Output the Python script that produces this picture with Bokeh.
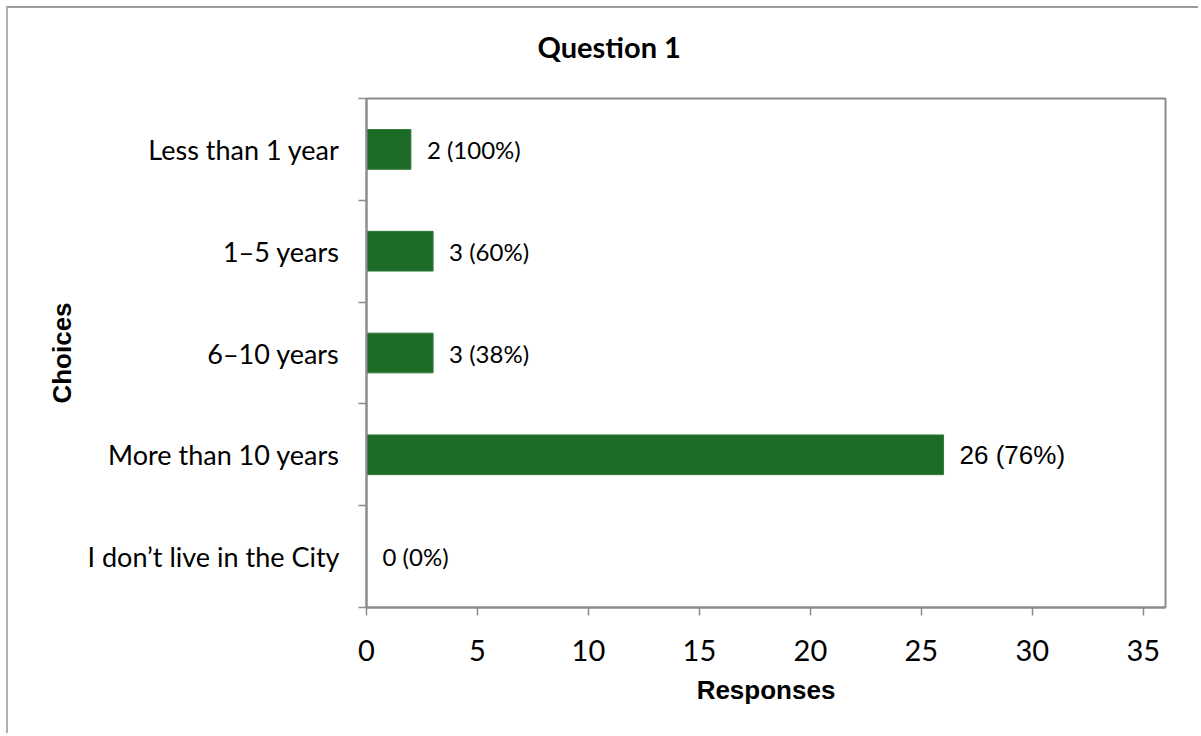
from bokeh.plotting import figure
from bokeh.models import Range1d, FixedTicker, ColumnDataSource, Title
from bokeh.core.properties import value
from bokeh.embed import file_html
from bokeh.resources import INLINE

# ---- data ----
choices = ["Less than 1 year", "1–5 years", "6–10 years", "More than 10 years", "I don’t live in the City"]
responses = [2, 3, 3, 26, 0]
percents = [100, 60, 38, 76, 0]
x_ticks = [0, 5, 10, 15, 20, 25, 30, 35]
x_max = 36
title_text = "Question 1"

n = len(choices)
ypos = [n - i - 0.5 for i in range(n)]
labels = [f"{r} ({p}%)" for r, p in zip(responses, percents)]

GRAY = "#8c8c8c"
GREEN = "#1e6b27"

p = figure(width=1192, height=727, x_range=Range1d(0, x_max), y_range=Range1d(0, n),
           output_backend="svg", toolbar_location=None, title=None,
           min_border_left=358, min_border_top=90, min_border_right=35, min_border_bottom=128)
p.styles = {"margin-left": "6px", "margin-top": "6px",
            "border-top": "2px solid #9b9b9b", "border-left": "2px solid #b0b0b0"}
p.background_fill_color = "white"
p.border_fill_color = "white"
p.outline_line_color = GRAY
p.outline_line_width = 2
p.xgrid.visible = False
p.ygrid.visible = False

p.add_layout(Title(text=title_text, align="left", offset=171, text_font="Lato",
                   text_font_style="bold", text_font_size="29px", text_color="#000000",
                   vertical_align="bottom", standoff=0,
                   padding=dict(left=0, right=0, top=0, bottom=35)), "above")

src = ColumnDataSource(dict(y=ypos, right=responses, label=labels, choice=choices))
p.hbar(y="y", right="right", left=0, height=0.39, source=src,
       fill_color=GREEN, line_color="#2f7d36", line_width=1)

# data labels
imax = responses.index(max(responses))
others = [i for i in range(n) if i != imax]
src_o = ColumnDataSource(dict(x=[responses[i] for i in others], y=[ypos[i] for i in others],
                              t=[labels[i] for i in others]))
src_m = ColumnDataSource(dict(x=[responses[imax]], y=[ypos[imax]], t=[labels[imax]]))
p.text(x="x", y="y", text="t", source=src_o, x_offset=16, text_baseline="middle",
       text_align="left", text_font=value("Lato"), text_font_size="24px", text_color="#000000")
p.text(x="x", y="y", text="t", source=src_m, x_offset=16, text_baseline="middle",
       text_align="left", text_font=value("Liberation Sans"), text_font_size="26px", text_color="#000000")

# x axis
xa = p.xaxis[0]
xa.ticker = FixedTicker(ticks=x_ticks)
xa.axis_line_color = GRAY
xa.axis_line_width = 2
xa.major_tick_line_color = GRAY
xa.major_tick_line_width = 1.5
xa.major_tick_out = 8
xa.major_tick_in = 0
xa.minor_tick_line_color = None
xa.major_label_text_font = "Lato"
xa.major_label_text_font_size = "29px"
xa.major_label_text_color = "#000000"
xa.major_label_standoff = 24
xa.axis_label = "Responses"
xa.axis_label_text_font = "Liberation Sans"
xa.axis_label_text_font_style = "bold"
xa.axis_label_text_font_size = "26px"
xa.axis_label_text_color = "#000000"
xa.axis_label_standoff = 11

# y axis: labels at centers, ticks at category boundaries
ya = p.yaxis[0]
ya.ticker = FixedTicker(ticks=ypos, minor_ticks=list(range(n + 1)))
ya.major_label_overrides = {y: c for y, c in zip(ypos, choices)}
ya.axis_line_color = GRAY
ya.axis_line_width = 2
ya.major_tick_out = 0
ya.major_tick_in = 0
ya.major_tick_line_color = None
ya.minor_tick_line_color = GRAY
ya.minor_tick_line_width = 1.5
ya.minor_tick_out = 8
ya.minor_tick_in = 0
ya.major_label_text_font = "Lato"
ya.major_label_text_font_size = "27px"
ya.major_label_text_color = "#000000"
ya.major_label_standoff = 19
ya.axis_label = "Choices"
ya.axis_label_text_font = "Liberation Sans"
ya.axis_label_text_font_style = "bold"
ya.axis_label_text_font_size = "26px"
ya.axis_label_text_color = "#000000"
ya.axis_label_standoff = 8

open("out.html", "w").write(file_html(p, INLINE))
